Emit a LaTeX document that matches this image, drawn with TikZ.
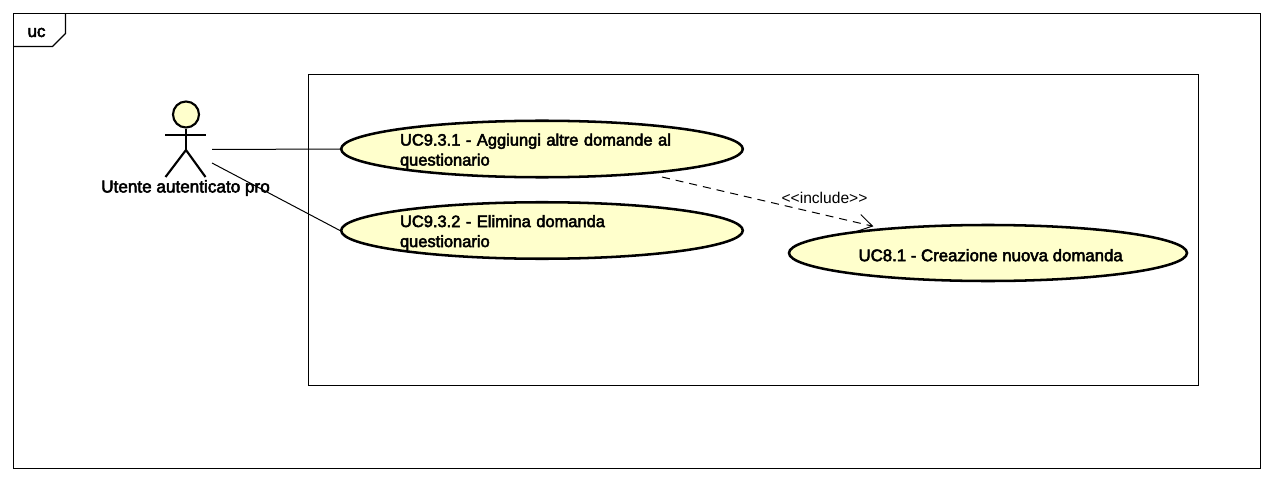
\documentclass[tikz,border=0pt]{standalone}
\usepackage{fontspec}
\setmainfont{Liberation Sans}
\newfontfamily\fakebd[FakeBold=3]{Liberation Sans}
\newcommand{\lowerstrut}{\rule{0pt}{12.4pt}}
\usetikzlibrary{shapes.geometric,arrows.meta}
\definecolor{ucfill}{HTML}{FFFFCC}
\tikzset{
  px/.style={x=0.75pt,y=-0.75pt},
  frameline/.style={draw=black,line width=0.8pt},
  usecase/.style={ellipse,draw=black,fill=ucfill,line width=1.9pt,inner sep=0pt,minimum width=298.5pt,minimum height=42pt,font=\fontsize{12.35pt}{15pt}\selectfont\fakebd},
  actorline/.style={draw=black,line width=1.6pt},
  assoc/.style={draw=black,line width=0.75pt},
  incl/.style={draw=black,line width=0.75pt,dash pattern=on 6pt off 4.5pt,-{Straight Barb[length=10.5pt,width=13pt,line width=0.75pt]}},
}
\begin{document}
\begin{tikzpicture}[px]
\useasboundingbox (0,0) rectangle (1273,481);
\fill[white] (0,0) rectangle (1273,481);
\draw[frameline] (13.5,13.5) rectangle (1260.5,468.5);
\draw[frameline] (13.5,46.5) -- (52.5,46.5) -- (65.5,33.5) -- (65.5,13.5);
\node[font=\fontsize{12.6pt}{13pt}\selectfont\fakebd] (frametitle) at (36.5,32.5) {uc};
\draw[frameline] (308.5,74.5) rectangle (1198.5,385.5);
% actor
\node[circle,draw=black,fill=ucfill,line width=1.6pt,minimum size=19.5pt,inner sep=0pt] (head) at (186,114.5) {};
\coordinate (hip) at (186,150);
\coordinate (larm) at (165,135);
\coordinate (rarm) at (206,135);
\coordinate (lfoot) at (165.5,177);
\coordinate (rfoot) at (205.5,177);
\draw[actorline] (head.south) -- (hip);
\draw[actorline] (larm) -- (rarm);
\draw[actorline] (lfoot) -- (hip) -- (rfoot);
\coordinate (actorA) at (212,149.5);
\coordinate (actorB) at (212,163);
% use cases
\node[usecase,align=left,text width=213pt] (uc1) at (542,149) {\lowerstrut UC9.3.1 - Aggiungi altre domande al\\questionario};
\node[usecase,align=left,text width=213pt] (uc2) at (542,230.5) {\lowerstrut UC9.3.2 - Elimina domanda\\questionario};
\node[usecase,font=\fontsize{12.6pt}{15pt}\selectfont\fakebd] (uc3) at (988,253) {\lowerstrut\hspace*{4pt}UC8.1 - Creazione nuova domanda};
\draw[assoc] (actorA) -- (uc1.west);
\draw[assoc] (actorB) -- (uc2.west);
\node[font=\fontsize{12.85pt}{13pt}\selectfont\fakebd] (actorname) at (185.5,188) {Utente autenticato pro};
\draw[incl] ([xshift=90pt,yshift=-21pt]uc1.center) -- ([xshift=-86pt,yshift=20pt]uc3.center);
\node[font=\fontsize{11.7pt}{13pt}\selectfont] (incllabel) at (824.5,198) {<{}<include>{}>};
\end{tikzpicture}
\end{document}
